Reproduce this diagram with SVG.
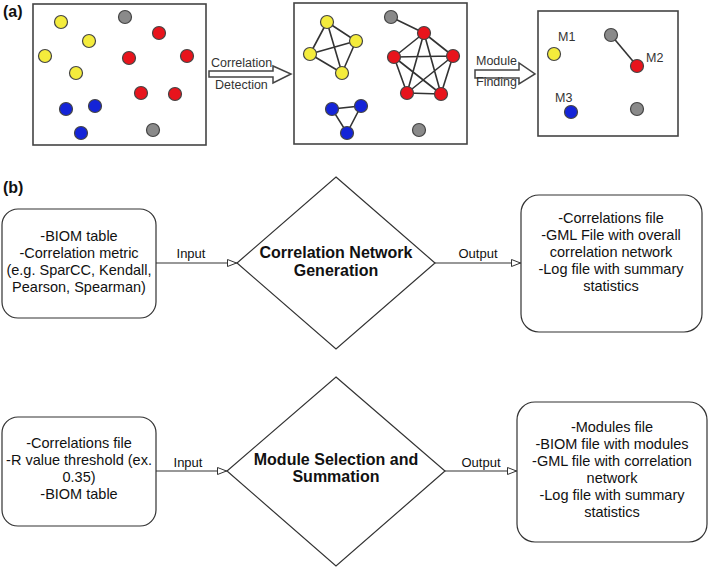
<svg xmlns="http://www.w3.org/2000/svg" width="709" height="570" viewBox="0 0 709 570">
<style>
.panel{fill:#fff;stroke:#444;stroke-width:1.6}
.lbl{font-family:"Liberation Sans",Arial,sans-serif;font-weight:bold;font-size:16px;fill:#111}
.small{font-family:"Liberation Sans",Arial,sans-serif;font-size:12.5px;fill:#333}
.y{fill:#f4ec3c;stroke:#444;stroke-width:1.2}
.r{fill:#e8141c;stroke:#444;stroke-width:1.2}
.b{fill:#1424d8;stroke:#444;stroke-width:1.2}
.g{fill:#8a8a8a;stroke:#444;stroke-width:1.2}
.e{stroke:#333;stroke-width:1.6;fill:none}
.blk{fill:#fff;stroke:#444;stroke-width:1.5}
.box{fill:#fff;stroke:#333;stroke-width:1.2}
.dia{fill:#fff;stroke:#333;stroke-width:1.2}
.txt{font-family:"Liberation Sans",Arial,sans-serif;font-size:14.5px;fill:#111;text-anchor:middle}
.bold{font-family:"Liberation Sans",Arial,sans-serif;font-size:16px;font-weight:bold;fill:#111;text-anchor:middle}
.cl{font-family:"Liberation Sans",Arial,sans-serif;font-size:13px;fill:#111;text-anchor:middle}
.conn{stroke:#333;stroke-width:1.2;fill:none;marker-end:url(#tri)}
</style>
<defs>
<marker id="tri" viewBox="0 0 10 8" refX="10" refY="4" markerWidth="10" markerHeight="8" markerUnits="userSpaceOnUse" orient="auto">
<path d="M0.5,0.5 L9.5,4 L0.5,7.5 Z" fill="#fff" stroke="#333" stroke-width="1"/>
</marker>
</defs>
<rect width="709" height="570" fill="#fff"/>

<text class="lbl" x="3" y="17">(a)</text>
<text class="lbl" x="3" y="193">(b)</text>

<g id="panel-a1">
<rect class="panel" x="33" y="4" width="173" height="141"/>
<circle class="y" cx="61" cy="22" r="6.5"/>
<circle class="y" cx="89" cy="41" r="6.5"/>
<circle class="y" cx="45" cy="56" r="6.5"/>
<circle class="y" cx="76" cy="73" r="6.5"/>
<circle class="g" cx="125" cy="17" r="6.5"/>
<circle class="g" cx="153" cy="130" r="6.5"/>
<circle class="r" cx="159" cy="33" r="6.5"/>
<circle class="r" cx="129" cy="58" r="6.5"/>
<circle class="r" cx="187" cy="56" r="6.5"/>
<circle class="r" cx="141" cy="93" r="6.5"/>
<circle class="r" cx="175" cy="94" r="6.5"/>
<circle class="b" cx="66" cy="109" r="6.5"/>
<circle class="b" cx="95" cy="106" r="6.5"/>
<circle class="b" cx="81" cy="133" r="6.5"/>
</g>

<g id="arrow-a1">
<polygon class="blk" points="209,71 273,71 273,66 291,74 273,83 273,77 209,77"/>
<text class="small" x="211" y="67">Correlation</text>
<text class="small" x="215" y="89">Detection</text>
</g>

<g id="panel-a2">
<rect class="panel" x="294" y="3" width="173" height="141"/>
<path class="e" d="M327,22L356,41M327,22L310,54M327,22L342,73M310,54L356,41M310,54L342,73M356,41L342,73"/>
<path class="e" d="M391,17L424,33M424,33L394,57M424,33L453,56M424,33L407,93M424,33L441,94M394,57L453,56M394,57L407,93M394,57L441,94M453,56L407,93M453,56L441,94M407,93L441,94"/>
<path class="e" d="M332,109L361,106L347,133Z"/>
<circle class="y" cx="327" cy="22" r="6.5"/>
<circle class="y" cx="356" cy="41" r="6.5"/>
<circle class="y" cx="310" cy="54" r="6.5"/>
<circle class="y" cx="342" cy="73" r="6.5"/>
<circle class="g" cx="391" cy="17" r="6.5"/>
<circle class="r" cx="424" cy="33" r="6.5"/>
<circle class="r" cx="394" cy="57" r="6.5"/>
<circle class="r" cx="453" cy="56" r="6.5"/>
<circle class="r" cx="407" cy="93" r="6.5"/>
<circle class="r" cx="441" cy="94" r="6.5"/>
<circle class="b" cx="332" cy="109" r="6.5"/>
<circle class="b" cx="361" cy="106" r="6.5"/>
<circle class="b" cx="347" cy="133" r="6.5"/>
<circle class="g" cx="419" cy="130" r="6.5"/>
</g>

<g id="arrow-a2">
<polygon class="blk" points="475,70 519,70 519,63 535,74 519,84 519,78 475,78"/>
<text class="small" x="476" y="65">Module</text>
<text class="small" x="476" y="86">Finding</text>
</g>

<g id="panel-a3">
<rect class="panel" x="538" y="11" width="140" height="125"/>
<path class="e" d="M611,35L637,66"/>
<circle class="y" cx="554" cy="54" r="6.5"/>
<circle class="g" cx="611" cy="35" r="6.5"/>
<circle class="r" cx="637" cy="66" r="6.5"/>
<circle class="b" cx="571" cy="112" r="6.5"/>
<circle class="g" cx="637" cy="109" r="6.5"/>
<text class="small" x="558" y="41">M1</text>
<text class="small" x="646" y="62">M2</text>
<text class="small" x="555" y="102">M3</text>
</g>

<g id="connectors">
<line class="conn" x1="156" y1="263" x2="237" y2="263"/>
<line class="conn" x1="435" y1="263" x2="521" y2="263"/>
<line class="conn" x1="156" y1="471" x2="227" y2="471"/>
<line class="conn" x1="445" y1="471" x2="517" y2="471"/>
<text class="cl" x="191" y="258">Input</text>
<text class="cl" x="478" y="258">Output</text>
<text class="cl" x="188" y="467">Input</text>
<text class="cl" x="481" y="467">Output</text>
</g>

<g id="input1">
<rect class="box" x="2" y="209" width="154" height="109" rx="16"/>
<text class="txt" x="79" y="241">-BIOM table</text>
<text class="txt" x="79" y="258">-Correlation metric</text>
<text class="txt" x="79" y="275">(e.g. SparCC, Kendall,</text>
<text class="txt" x="79" y="292">Pearson, Spearman)</text>
</g>

<g id="process1">
<polygon class="dia" points="336,177 435,263 336,349 237,263"/>
<text class="bold" x="336" y="258">Correlation Network</text>
<text class="bold" x="336" y="276">Generation</text>
</g>

<g id="output1">
<rect class="box" x="521" y="195" width="181" height="137" rx="18"/>
<text class="txt" x="611" y="223">-Correlations file</text>
<text class="txt" x="611" y="240">-GML File with overall</text>
<text class="txt" x="611" y="257">correlation network</text>
<text class="txt" x="611" y="274">-Log file with summary</text>
<text class="txt" x="611" y="291">statistics</text>
</g>

<g id="input2">
<rect class="box" x="2" y="417" width="154" height="109" rx="16"/>
<text class="txt" x="79" y="448">-Correlations file</text>
<text class="txt" x="79" y="465">-R value threshold (ex.</text>
<text class="txt" x="79" y="482">0.35)</text>
<text class="txt" x="79" y="499">-BIOM table</text>
</g>

<g id="process2">
<polygon class="dia" points="336,377 445,471 336,566 227,471"/>
<text class="bold" x="336" y="465">Module Selection and</text>
<text class="bold" x="336" y="482">Summation</text>
</g>

<g id="output2">
<rect class="box" x="517" y="402" width="190" height="140" rx="18"/>
<text class="txt" x="612" y="432">-Modules file</text>
<text class="txt" x="612" y="449">-BIOM file with modules</text>
<text class="txt" x="612" y="466">-GML file with correlation</text>
<text class="txt" x="612" y="483">network</text>
<text class="txt" x="612" y="500">-Log file with summary</text>
<text class="txt" x="612" y="517">statistics</text>
</g>
</svg>
